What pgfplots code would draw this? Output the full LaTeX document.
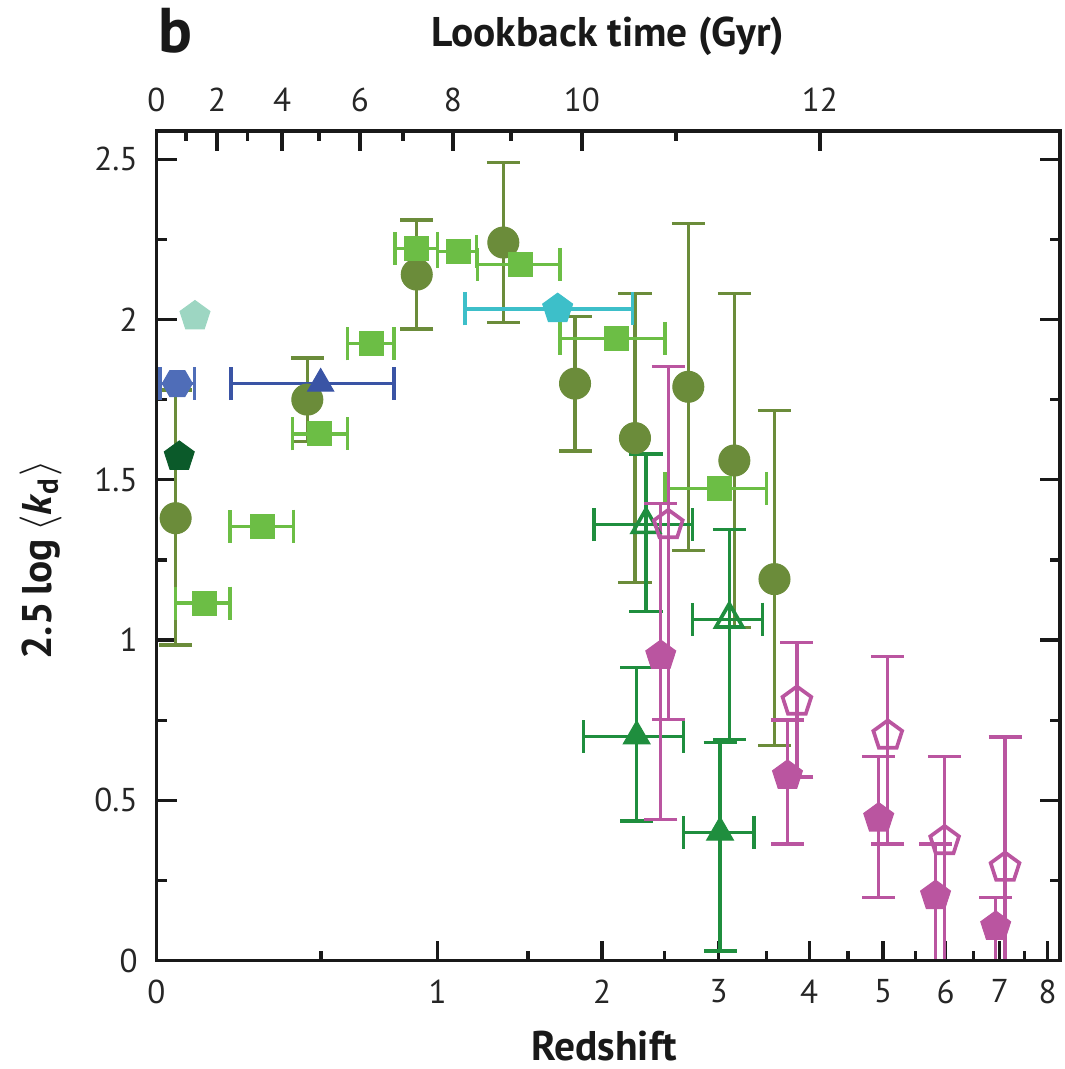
\documentclass[border=0pt]{standalone}
\usepackage{pgfplots}
\pgfplotsset{compat=1.18}
\usepackage{pgfplotstable}
\usepackage{fontspec}
\setmainfont{PT Sans}
\usetikzlibrary{plotmarks}

\definecolor{colOlive}{HTML}{6B8C3A}
\definecolor{colLG}{HTML}{6CBE45}
\definecolor{colBlueHex}{HTML}{4F6DB8}
\definecolor{colBlueTri}{HTML}{3A54A5}
\definecolor{colTeal}{HTML}{9DD6C2}
\definecolor{colDG}{HTML}{0B5A2A}
\definecolor{colCyan}{HTML}{3DBFC9}
\definecolor{colGreen}{HTML}{1F8E3E}
\definecolor{colMag}{HTML}{BA55A0}

\pgfdeclareplotmark{hexagon*}{%
  \pgfpathmoveto{\pgfqpointpolar{0}{\pgfplotmarksize}}%
  \pgfpathlineto{\pgfqpointpolar{60}{\pgfplotmarksize}}%
  \pgfpathlineto{\pgfqpointpolar{120}{\pgfplotmarksize}}%
  \pgfpathlineto{\pgfqpointpolar{180}{\pgfplotmarksize}}%
  \pgfpathlineto{\pgfqpointpolar{240}{\pgfplotmarksize}}%
  \pgfpathlineto{\pgfqpointpolar{300}{\pgfplotmarksize}}%
  \pgfpathclose
  \pgfusepathqfillstroke}

% x = log10(1+z)
\pgfplotstableread{
x y ep em
0.0205 1.38 0.40 0.395
0.1615 1.75 0.13 0.13
0.2787 2.14 0.17 0.17
0.3714 2.24 0.25 0.25
0.4482 1.80 0.21 0.21
0.5124 1.63 0.45 0.45
0.5695 1.79 0.51 0.51
0.6188 1.56 0.52 0.52
0.6618 1.19 0.525 0.518
}\tOlive

\pgfplotstableread{
x y xp xm
0.0509 1.115 0.0278 0.0304
0.1137 1.355 0.0328 0.0350
0.1750 1.643 0.0298 0.0296
0.2305 1.924 0.0238 0.0257
0.2787 2.222 0.0219 0.0233
0.3232 2.212 0.0197 0.0225
0.3893 2.172 0.0428 0.0457
0.4928 1.941 0.0518 0.0607
0.6034 1.473 0.0501 0.0588
}\tLG

\pgfplotstableread{
x y xp xm
0.0223 1.80 0.0182 0.0186
}\tHex

\pgfplotstableread{
x y xp xm
0.1758 1.80 0.0785 0.0962
}\tTri

\pgfplotstableread{
x y
0.0412 2.01
}\tTeal

\pgfplotstableread{
x y
0.0244 1.572
}\tDG

\pgfplotstableread{
x y xp xm
0.4296 2.033 0.0799 0.0992
}\tCyan

\pgfplotstableread{
x y xp xm yp ym
0.5242 1.36 0.0496 0.0557 0.22 0.27
0.6134 1.065 0.0354 0.0392 0.28 0.375
}\tGreenOpen

\pgfplotstableread{
x y xp xm yp ym
0.5142 0.70 0.0500 0.0571 0.215 0.265
0.6035 0.40 0.0364 0.0393 0.28 0.37
}\tGreenFill

\pgfplotstableread{
x y yp ym
0.5400 0.951 0.475 0.51
0.6757 0.577 0.174 0.213
0.7734 0.444 0.193 0.248
0.8343 0.202 0.162 0.35
0.8987 0.106 0.090 0.25
}\tMagFill

\pgfplotstableread{
x y yp ym
0.5481 1.359 0.495 0.607
0.6858 0.808 0.184 0.235
0.7831 0.702 0.246 0.338
0.8440 0.373 0.264 0.50
0.9087 0.290 0.408 0.40
}\tMagOpen

\begin{document}
\begin{tikzpicture}
\useasboundingbox (-1.565cm,-1.084cm) rectangle (9.075cm,9.606cm);
\pgfplotsset{
  common/.style={
    at={(0,0)}, anchor=south west, scale only axis,
    width=9.035cm, height=8.296cm,
    xmin=0, xmax=0.9676, ymin=0, ymax=2.588,
    axis line style={line width=0.95pt, black!90},
    tick style={line width=0.95pt, black!90},
    major tick length=0.2cm, minor tick length=0.1cm,
    tick align=inside,
    tick label style={font=\fontsize{9.4}{11}\selectfont, inner sep=5.2pt, text=black!85},
  }
}
\begin{axis}[common,
  xtick={0,0.30103,0.47712,0.60206,0.69897,0.77815,0.84510,0.90309,0.95424},
  xticklabels={0,1,2,3,4,5,6,7,8},
  minor xtick={0.17609,0.39794,0.54407,0.65321,0.74036,0.81291,0.87506,0.92942},
  xtick pos=bottom,
  ytick={0,0.5,1,1.5,2,2.5},
  yticklabels={0,0.5,1,1.5,2,2.5},
  minor y tick num=1,
  ytick pos=both,
  error bars/error bar style={line width=0.95pt, solid},
  error bars/error mark options={rotate=90, mark size=4.7pt, line width=0.95pt},
]
% olive circles
\addplot[only marks, color=colOlive, mark=*, mark size=4.41pt,
  mark options={fill=colOlive, draw=colOlive, line width=0.3pt},
  error bars/.cd, y dir=both, y explicit]
  table[x=x, y=y, y error plus=ep, y error minus=em] {\tOlive};
% light green squares
\addplot[only marks, color=colLG, mark=square*, mark size=3.4pt,
  mark options={fill=colLG, draw=colLG, line width=0.3pt},
  error bars/.cd, x dir=both, x explicit]
  table[x=x, y=y, x error plus=xp, x error minus=xm] {\tLG};
% blue hexagon
\addplot[only marks, color=colBlueHex, mark=hexagon*, mark size=4.27pt,
  mark options={fill=colBlueHex, draw=colBlueHex, line width=0.3pt},
  error bars/.cd, x dir=both, x explicit]
  table[x=x, y=y, x error plus=xp, x error minus=xm] {\tHex};
% blue triangle
\addplot[only marks, color=colBlueTri, mark=triangle*, mark size=4.27pt,
  mark options={fill=colBlueTri, draw=colBlueTri, line width=0.3pt},
  error bars/.cd, x dir=both, x explicit]
  table[x=x, y=y, x error plus=xp, x error minus=xm] {\tTri};
% teal pentagon
\addplot[only marks, color=colTeal, mark=pentagon*, mark size=4.47pt,
  mark options={fill=colTeal, draw=colTeal, line width=0.3pt}]
  table[x=x, y=y] {\tTeal};
% dark green pentagon
\addplot[only marks, color=colDG, mark=pentagon*, mark size=4.47pt,
  mark options={fill=colDG, draw=colDG, line width=0.3pt}]
  table[x=x, y=y] {\tDG};
% cyan pentagon
\addplot[only marks, color=colCyan, mark=pentagon*, mark size=4.47pt,
  mark options={fill=colCyan, draw=colCyan, line width=0.3pt},
  error bars/.cd, x dir=both, x explicit]
  table[x=x, y=y, x error plus=xp, x error minus=xm] {\tCyan};
% green triangles, open
\addplot[only marks, color=colGreen, mark=triangle, mark size=4.4pt,
  mark options={draw=colGreen, line width=1.05pt},
  error bars/.cd, x dir=both, x explicit, y dir=both, y explicit]
  table[x=x, y=y, x error plus=xp, x error minus=xm, y error plus=yp, y error minus=ym] {\tGreenOpen};
% green triangles, filled
\addplot[only marks, color=colGreen, mark=triangle*, mark size=4.4pt,
  mark options={fill=colGreen, draw=colGreen, line width=0.3pt},
  error bars/.cd, x dir=both, x explicit, y dir=both, y explicit]
  table[x=x, y=y, x error plus=xp, x error minus=xm, y error plus=yp, y error minus=ym] {\tGreenFill};
% magenta pentagons, filled
\addplot[only marks, color=colMag, mark=pentagon*, mark size=4.47pt,
  mark options={fill=colMag, draw=colMag, line width=0.3pt},
  error bars/.cd, y dir=both, y explicit]
  table[x=x, y=y, y error plus=yp, y error minus=ym] {\tMagFill};
% magenta pentagons, open
\addplot[only marks, color=colMag, mark=pentagon, mark size=4.3pt,
  mark options={draw=colMag, line width=1.05pt},
  error bars/.cd, y dir=both, y explicit]
  table[x=x, y=y, y error plus=yp, y error minus=ym] {\tMagOpen};
\end{axis}
% top axis: lookback time
\begin{axis}[common,
  xtick={0,0.0648,0.1344,0.2179,0.3175,0.4556,0.7105},
  xticklabels={0,2,4,6,8,10,12},
  minor xtick={0.0316,0.0975,0.1740,0.2640,0.3796,0.5563},
  xtick pos=top, xticklabel pos=top,
  ytick=\empty,
]
\end{axis}
\node[font=\bfseries\fontsize{18}{21}\selectfont, text=black!90] at (0.185cm,9.296cm) {b};
\node[font=\bfseries\fontsize{11.8}{14}\selectfont, text=black!90] at (4.515cm,9.246cm) {Lookback time (Gyr)};
\node[font=\bfseries\fontsize{11.8}{14}\selectfont, text=black!90] at (4.475cm,-0.85cm) {Redshift};
\node[rotate=90, font=\bfseries\fontsize{11.8}{14}\selectfont, text=black!90] at (-1.155cm,4.006cm) {2.5\,log\,$\langle$\textit{k}\textsubscript{d}$\rangle$};
\end{tikzpicture}
\end{document}
